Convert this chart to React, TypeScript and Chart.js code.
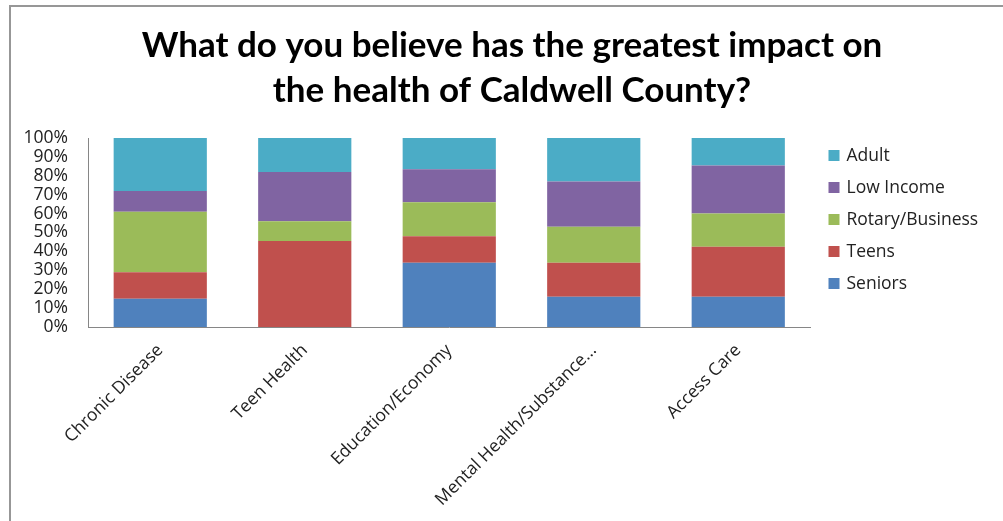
import React, { useEffect, useRef } from 'react';
import { Chart, registerables } from 'chart.js';

Chart.register(...registerables);

const categories = ['Chronic Disease', 'Teen Health', 'Education/Economy', 'Mental Health/Substance...', 'Access Care'];
const seniors = [15, 0, 34, 16, 16];
const teens = [14, 45.5, 14, 18, 26.5];
const rotary = [32, 10.5, 18, 19, 17.5];
const lowIncome = [11, 26, 17.5, 24, 25.5];
const adult = [28, 18, 16.5, 23, 14.5];
const seriesNames = ['Seniors', 'Teens', 'Rotary/Business', 'Low Income', 'Adult'];
const seriesColors = ['#4F81BD', '#C0504D', '#9BBB59', '#8064A2', '#4BACC6'];
const titleLines = ['What do you believe has the greatest impact on', 'the health of Caldwell County?'];

const W = 1003;
const H = 521;
const TEXT = '#222222';
const TICK_FONT = { family: '"Open Sans", sans-serif', size: 17.5 };

const overlay = {
  id: 'overlay',
  afterDraw(chart: any) {
    const { ctx, chartArea } = chart;
    ctx.save();
    ctx.fillStyle = '#000000';
    ctx.font = 'bold 35px Lato, sans-serif';
    ctx.textAlign = 'center';
    ctx.textBaseline = 'alphabetic';
    titleLines.forEach((t, i) => ctx.fillText(t, 512, 57 + i * 45));

    const items = chart.data.datasets
      .map((d: any) => ({ label: d.label, color: d.backgroundColor }))
      .reverse();
    ctx.font = '17.5px "Open Sans", sans-serif';
    ctx.textAlign = 'left';
    ctx.textBaseline = 'middle';
    items.forEach((it: any, i: number) => {
      const cy = chartArea.top + 17.5 + i * 32;
      ctx.fillStyle = it.color;
      ctx.fillRect(chartArea.right + 18, cy - 5.5, 11, 11);
      ctx.fillStyle = TEXT;
      ctx.fillText(it.label, chartArea.right + 36, cy + 1);
    });
    ctx.restore();
  },
};

export default function App() {
  const ref = useRef<HTMLCanvasElement | null>(null);
  useEffect(() => {
    if (!ref.current) return;
    const series = [seniors, teens, rotary, lowIncome, adult];
    const chart = new Chart(ref.current, {
      type: 'bar',
      data: {
        labels: categories,
        datasets: series.map((d, i) => ({
          label: seriesNames[i],
          data: d,
          backgroundColor: seriesColors[i],
          borderWidth: 0,
          barPercentage: 0.645,
          categoryPercentage: 1.0,
        })),
      },
      options: {
        responsive: false,
        animation: false,
        devicePixelRatio: 1,
        layout: { padding: { top: 138, right: 192.5, bottom: 0, left: 0 } },
        plugins: { legend: { display: false }, title: { display: false }, tooltip: { enabled: false } },
        scales: {
          x: {
            stacked: true,
            grid: { display: false, drawTicks: false },
            border: { display: true, color: '#868686', width: 1 },
            ticks: {
              autoSkip: false,
              maxRotation: 45,
              minRotation: 45,
              font: TICK_FONT,
              color: TEXT,
              padding: 13,
            },
            afterFit: (s: any) => {
              s.height = 194;
            },
          },
          y: {
            stacked: true,
            min: 0,
            max: 100,
            grid: { display: false, drawTicks: false },
            border: { display: true, color: '#868686', width: 1 },
            ticks: {
              stepSize: 10,
              autoSkip: false,
              callback: (v: any) => v + '%',
              font: TICK_FONT,
              color: TEXT,
              padding: 20,
            },
            afterFit: (s: any) => {
              s.width = 88;
            },
          },
        },
      },
      plugins: [overlay],
    });
    return () => chart.destroy();
  }, []);

  return (
    <div style={{ position: 'absolute', left: 0, top: 0, width: W, height: H, background: '#fff', overflow: 'hidden' }}>
      <canvas ref={ref} width={W} height={H} style={{ display: 'block', width: W, height: H }} />
      <div style={{ position: 'absolute', left: 9, top: 5, width: W - 9, height: 2, background: '#979797' }} />
      <div style={{ position: 'absolute', left: 9, top: 5, width: 2, height: H - 5, background: '#979797' }} />
    </div>
  );
}
